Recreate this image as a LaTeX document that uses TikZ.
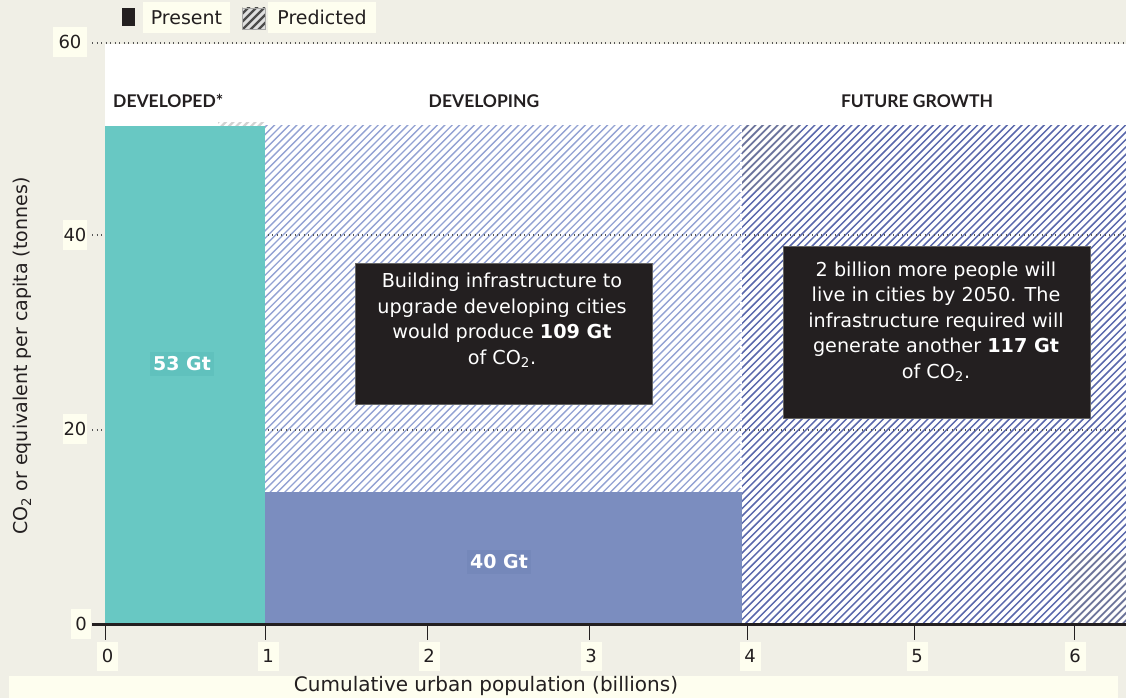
\documentclass[tikz,border=0pt]{standalone}
\usepackage{fontspec}
\setmainfont{DejaVu Sans}
\newfontfamily\titlefont{Lato}
\definecolor{bgc}{HTML}{F0EFE6}
\definecolor{ivory}{HTML}{FEFEEF}
\definecolor{tealc}{HTML}{68C8C3}
\definecolor{tealdk}{HTML}{60C1BD}
\definecolor{bluec}{HTML}{7B8DBF}
\definecolor{bluedk}{HTML}{7588BA}
\definecolor{darkc}{HTML}{231F20}
\definecolor{hatchL}{HTML}{93A2D3}
\definecolor{hatchD}{HTML}{5A68AC}
\definecolor{gridc}{HTML}{555555}
\newcommand\hatchfill[6]{%
\begin{scope}
\clip (#1,#2) rectangle (#3,#4);
\foreach \i in {0,...,250}{
 \draw[#5, line width=#6] ({\i*7.4},0) -- ++(-760,760);
}
\end{scope}}
\begin{document}
\begin{tikzpicture}[x=1pt,y=-1pt,
  ibox/.style={fill=ivory, inner sep=0pt, text=darkc},
  ticklab/.style={ibox, font=\fontsize{18}{20}\selectfont, minimum width=21, minimum height=29},
  ylab/.style={ibox, font=\fontsize{18}{20}\selectfont, minimum height=30},
  titl/.style={font=\titlefont\bfseries\fontsize{17.5}{19}\selectfont, text=darkc, inner sep=0pt},
  bodytxt/.style={font=\fontsize{19.2}{25.5}\selectfont, text=white, align=center, inner sep=0pt},
  darkbox/.style={fill=darkc, draw=black!60, line width=0.6pt, inner sep=0pt},
  gridl/.style={gridc, line width=1.2pt, dash pattern=on 1.2pt off 3.3pt},
  tickl/.style={darkc, line width=1pt}
]
\useasboundingbox (0,0) rectangle (1126,698);
\fill[bgc] (0,0) rectangle (1126,698);
% plot area
\fill[white] (105,44) rectangle (1126,624);
% hatches
\hatchfill{265}{126}{742}{624}{hatchL}{1.35}
\hatchfill{742}{126}{1126}{624}{hatchD}{1.5}
\hatchfill{742}{126}{800}{190}{gray, opacity=0.35}{2.2}
\hatchfill{1068}{553}{1126}{624}{gray, opacity=0.4}{2.2}
\hatchfill{218}{123}{265}{130}{gray, opacity=0.35}{2.2}
% vertical dotted divider
\draw[white, line width=1.2pt, dash pattern=on 2pt off 2pt] (741,126) -- (741,624);
% gridlines
\draw[gridl] (92,43) -- (1126,43);
\draw[gridl] (92,235) -- (1126,235);
\draw[gridl] (92,430) -- (1126,430);
% solid bars
\fill[tealc] (105,126) rectangle (265,624);
\fill[bluec] (265,492) rectangle (742,624);
% axis
\draw[darkc, line width=3pt] (92,624) -- (1126,624);
\foreach \x in {105.5,265.5,427,589,747.5,914,1074}{
  \draw[tickl] (\x,625) -- (\x,640);
}
% tick labels
\node[ticklab] (x0) at (107.5,656) {0};
\node[ticklab] (x1) at (268,656) {1};
\node[ticklab] (x2) at (429,656) {2};
\node[ticklab] (x3) at (591,656) {3};
\node[ticklab] (x4) at (750,656) {4};
\node[ticklab] (x5) at (917,656) {5};
\node[ticklab] (x6) at (1075,656) {6};
\node[ylab, minimum width=34] (y60) at (70,42) {60\hspace{10pt}};
\node[ylab, minimum width=24] (y40) at (75,235) {40};
\node[ylab, minimum width=24] (y20) at (75,429) {20};
\node[ylab, minimum width=20] (y0) at (81,623.5) {0};
% axis titles
\fill[ivory] (9,676) rectangle (1118,698);
\node[font=\fontsize{20}{22}\selectfont, text=darkc, inner sep=0pt] (xt) at (486,686) {Cumulative urban population (billions)};
\node[font=\fontsize{19}{21}\selectfont, text=darkc, inner sep=0pt, rotate=90] (yt) at (22,356) {CO\textsubscript{2} or equivalent per capita (tonnes)};
% legend
\fill[darkc] (122,8) rectangle (135,26);
\node[ibox, font=\fontsize{19}{21}\selectfont, minimum width=87, minimum height=31] (lp) at (186.5,17.5) {Present};
\begin{scope}
\clip (242,8) rectangle (265,29);
\fill[gray!25] (242,8) rectangle (265,29);
\foreach \c in {240,248,...,300}{
  \draw[black!70, line width=2.2pt] (\c,0) -- ++(-40,40);
}
\end{scope}
\draw[gray!70, line width=0.8pt] (242,8) rectangle (265,29);
\node[ibox, font=\fontsize{19}{21}\selectfont, minimum width=108, minimum height=31] (lh) at (322,17.5) {Predicted};
% section titles
\node[titl, anchor=west] (t1) at (113,101) {DEVELOPED*};
\node[titl] (t2) at (484,101) {DEVELOPING};
\node[titl] (t3) at (917,101) {FUTURE GROWTH};
% bar labels
\node[fill=tealdk, inner xsep=3pt, inner ysep=5pt, font=\bfseries\fontsize{19}{21}\selectfont, text=white] (l53) at (182,364) {53 Gt};
\node[fill=bluedk, inner xsep=3pt, inner ysep=5pt, font=\bfseries\fontsize{19}{21}\selectfont, text=white] (l40) at (499,562) {40 Gt};
% dark boxes
\node[darkbox, minimum width=297, minimum height=141] (b1) at (503.5,333.5) {};
\node[bodytxt] (b1t) at (502,320.5) {Building infrastructure to\\upgrade developing cities\\would produce \textbf{109 Gt}\\of CO\textsubscript{2}.};
\node[darkbox, minimum width=307, minimum height=172] (b2) at (936.5,332) {};
\node[bodytxt] (b2t) at (936,321.5) {2 billion more people will\\live in cities by 2050. The\\infrastructure required will\\generate another \textbf{117 Gt}\\of CO\textsubscript{2}.};
\end{tikzpicture}
\end{document}
